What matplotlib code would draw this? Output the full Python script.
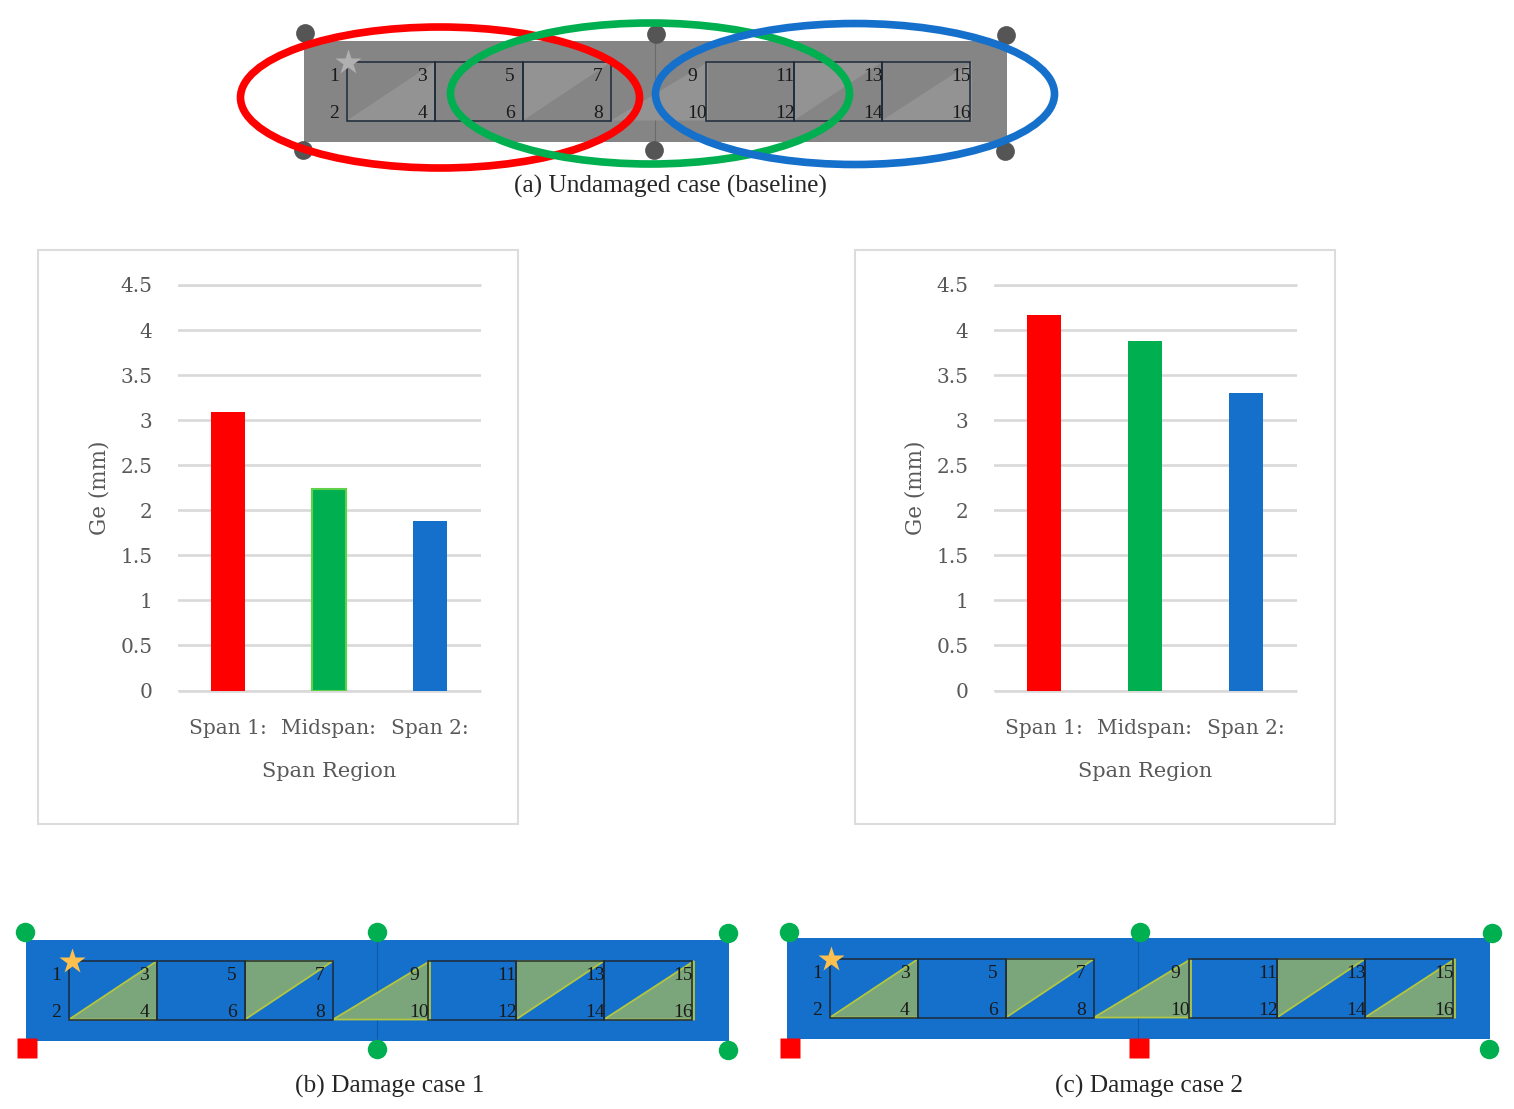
#!/usr/bin/env python3
"""Ge per span region for two damage cases, with the beam schematics around them."""

import matplotlib

matplotlib.use("Agg")
import matplotlib.pyplot as plt
from matplotlib.patches import Ellipse, Polygon, Rectangle

W, H = 1514, 1109

regions = ["Span 1:", "Midspan:", "Span 2:"]
case1_ge = [3.09, 2.24, 1.88]
case2_ge = [4.17, 3.88, 3.30]
y_ticks = [0, 0.5, 1, 1.5, 2, 2.5, 3, 3.5, 4, 4.5]
y_tick_labels = ["0", "0.5", "1", "1.5", "2", "2.5", "3", "3.5", "4", "4.5"]
bar_colors = ["#ff0000", "#00b050", "#1570cc"]

# x of cell edges relative to the grid's left edge, one group per span
cell_edges = [[0, 88, 176, 264], [359, 447, 535, 623]]
# sensor number: x and y offset from the grid's top-left corner
sensor_pos = {
    1: (-13, 13), 2: (-13, 50), 3: (75, 13), 4: (75, 50),
    5: (163, 13), 6: (163, 50), 7: (251, 13), 8: (251, 50),
    9: (345, 13), 10: (350, 50), 11: (438, 13), 12: (438, 50),
    13: (526, 13), 14: (526, 50), 15: (614, 13), 16: (614, 50),
}
# lower: triangle under the diagonal, upper: triangle above it
triangles = [(0, 88, "lower"), (176, 264, "upper"), (264, 361, "lower"),
             (447, 535, "upper"), (535, 625, "lower")]

SERIF = "Liberation Serif"
CHART_FONT = "DejaVu Serif"
TEXT_GREY = "#595959"


def draw_beam(ax, x0, y0, beam_color, tri_color, tri_edge, star_color, star_dx=1):
    """Beam with the sensor grid; x0, y0 is the beam's top-left corner."""
    gx, gy = x0 + 43, y0 + 21
    gh = 58.5
    ax.add_patch(Rectangle((x0, y0), 703, 101, fc=beam_color, ec="none", zorder=1))
    ax.plot([x0 + 351] * 2, [y0, y0 + 101], color="#000000", alpha=0.2, lw=0.8, zorder=1.5)
    for left, right, side in triangles:
        if side == "lower":
            pts = [(gx + left, gy + gh), (gx + right, gy), (gx + right, gy + gh)]
        else:
            pts = [(gx + left, gy + gh), (gx + right, gy), (gx + left, gy)]
        ax.add_patch(Polygon(pts, fc=tri_color, ec=tri_edge, lw=1.3, zorder=2))
    for group in cell_edges:
        for a, b in zip(group, group[1:]):
            ax.add_patch(Rectangle((gx + a, gy), b - a, gh, fc="none", ec="#1c2a3a", lw=1.1, zorder=3))
    for num, (dx, dy) in sensor_pos.items():
        ax.text(gx + dx, gy + dy + 1.5, str(num), family=SERIF, fontsize=14, color="#1a1a1a",
                ha="center", va="center", zorder=4)
    ax.plot([gx + star_dx], [gy], marker="*", ms=19, color=star_color, mec="none", zorder=5)


def draw_support(ax, x, y, color, kind="o", size=13.5):
    ax.plot([x], [y], marker=kind, ms=size, color=color, mec="none", zorder=6)


def bar_panel(fig, left, values):
    top, bottom, right = 285, 690.5, left + 303
    ax = fig.add_axes([(left - 0.5) / W, 1 - bottom / H, (right - left) / W, (bottom - top) / H])
    ax.patch.set_alpha(0)
    ax.set_xlim(-0.5, 2.5)
    ax.set_ylim(0, 4.5)
    ax.set_axisbelow(True)
    ax.grid(True, axis="y", color="#d9d9d9", linewidth=1.9)
    ax.grid(False, axis="x")
    for gy in (0, 4.5):
        ax.plot([-0.5, 2.5], [gy, gy], color="#d9d9d9", lw=1.9, clip_on=False, zorder=0.5,
                solid_capstyle="butt")
    ax.bar(range(3), values, width=0.338, color=bar_colors, zorder=3)
    for spine in ax.spines.values():
        spine.set_visible(False)
    ax.set_xticks(range(3), regions)
    ax.set_yticks(y_ticks, y_tick_labels)
    ax.tick_params(length=0, colors=TEXT_GREY, labelsize=14.5)
    ax.tick_params(axis="x", pad=20.5)
    ax.tick_params(axis="y", pad=18)
    for label in ax.get_xticklabels() + ax.get_yticklabels():
        label.set_family(CHART_FONT)
    ax.set_xlabel("Span Region", family=CHART_FONT, fontsize=15, color=TEXT_GREY, labelpad=17.5)
    ax.set_ylabel("Ge (mm)", family=CHART_FONT, fontsize=15.5, color=TEXT_GREY, labelpad=7)
    return ax


fig = plt.figure(figsize=(W / 100, H / 100), dpi=100, facecolor="white")
bg = fig.add_axes([0, 0, 1, 1])
bg.set_xlim(0, W)
bg.set_ylim(H, 0)
bg.axis("off")

# panel frames
for fx in (38, 855):
    bg.add_patch(Rectangle((fx, 250), 480, 574, fc="white", ec="#dcdcdc", lw=1.5, zorder=0.5))

# (a) baseline beam with the three region ellipses
draw_beam(bg, 304, 41, "#858585", "#939393", "none", "#b0b0b0")
for sx, sy in [(305, 33), (656, 34), (1006, 35), (303, 150), (654, 150), (1005, 151)]:
    draw_support(bg, sx, sy, "#555555", size=13.5)
for cx, cy, color, z in [(440, 97.5, "#ff0000", 7), (650, 93.5, "#00b050", 8), (855, 94, "#1570cc", 9)]:
    bg.add_patch(Ellipse((cx, cy), 399, 141, fc="none", ec=color, lw=5.5, zorder=z))
bg.text(670, 186, "(a) Undamaged case (baseline)", family=SERIF, fontsize=18.3, color="#262626",
        ha="center", va="center")

# (b) damage case 1
draw_beam(bg, 26, 940, "#1570cc", "#7ba57a", "#b3c640", "#fdc04f", star_dx=3)
for sx, sy in [(25, 932), (377, 932), (728, 933), (377, 1049), (728, 1050)]:
    draw_support(bg, sx, sy, "#00b050", size=14)
draw_support(bg, 27, 1047.5, "#ff0000", "s", size=15)
bg.text(390, 1086, "(b) Damage case 1", family=SERIF, fontsize=18.3, color="#262626",
        ha="center", va="center")

# (c) damage case 2
draw_beam(bg, 787, 938, "#1570cc", "#7ba57a", "#b3c640", "#fdc04f")
for sx, sy in [(789, 932), (1140, 932), (1492, 933), (1489, 1049)]:
    draw_support(bg, sx, sy, "#00b050", size=14)
draw_support(bg, 790, 1047.5, "#ff0000", "s", size=15)
draw_support(bg, 1139, 1047.5, "#ff0000", "s", size=15)
bg.text(1149, 1086, "(c) Damage case 2", family=SERIF, fontsize=18.3, color="#262626",
        ha="center", va="center")

ax1 = bar_panel(fig, 178, case1_ge)
ax1.patches[1].set_edgecolor("#5fd04a")
ax1.patches[1].set_linewidth(1.5)
bar_panel(fig, 994, case2_ge)

fig.savefig("out.png", dpi=100, facecolor="white")
